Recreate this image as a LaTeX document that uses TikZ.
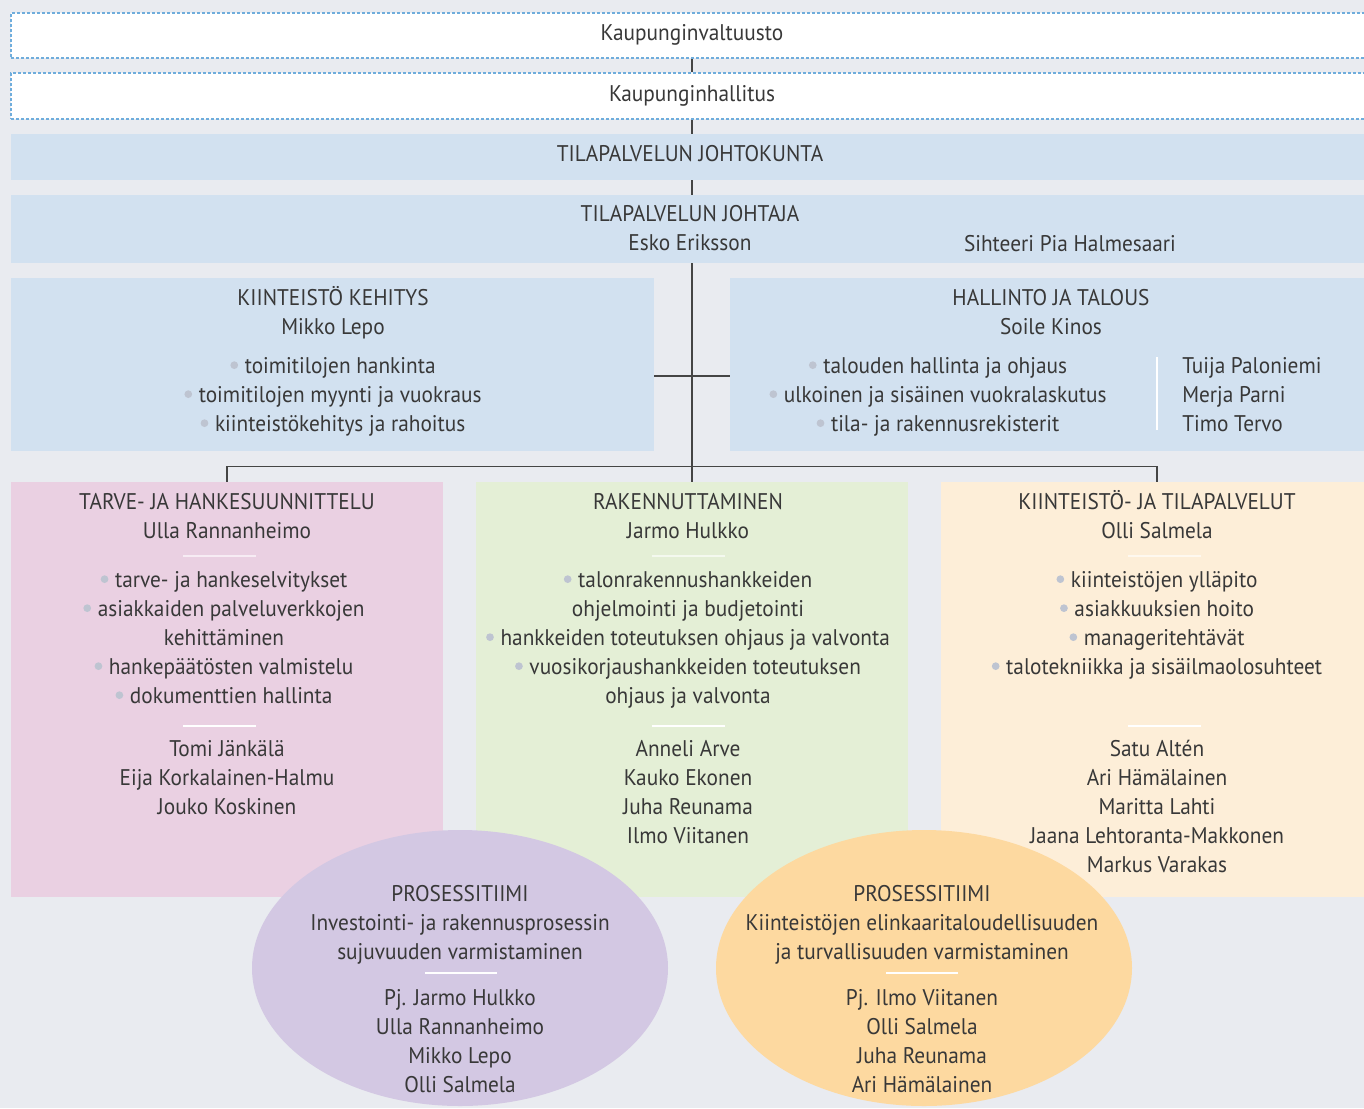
\documentclass[tikz,border=0pt]{standalone}
\usepackage{fontspec}
\setmainfont{PT Sans}[FakeStretch=0.94]
\usepackage{xcolor}
\usetikzlibrary{shapes,positioning,fit,calc}

\definecolor{bgcol}{HTML}{E9EBF0}
\definecolor{dotblue}{HTML}{6FADDC}
\definecolor{boxblue}{HTML}{D2E1F0}
\definecolor{boxpink}{HTML}{EAD0E2}
\definecolor{boxgreen}{HTML}{E4EFD6}
\definecolor{boxpeach}{HTML}{FDEED8}
\definecolor{ellpurple}{HTML}{D3C8E3}
\definecolor{ellorange}{HTML}{FDD9A0}
\definecolor{txtcol}{HTML}{383838}
\definecolor{bulgray}{HTML}{BEC4D1}
\definecolor{linecol}{HTML}{454545}

\newcommand{\bul}{\tikz[baseline=-0.36em]\fill[bulgray] (0,0) circle (2.9pt);\hspace{5pt}}
\newcommand{\tstrut}{\rule{0pt}{18pt}}

\begin{document}
\begin{tikzpicture}[x=0.75pt, y=-0.75pt, font=\fontsize{17}{21.75}\selectfont, text=txtcol]
\tikzstyle{topbox} = [rectangle, inner sep=0pt, fill=white, draw=dotblue, line width=1.7pt, dash pattern=on 2pt off 1.75pt]
\tikzstyle{bluebox} = [rectangle, inner sep=0pt, fill=boxblue]
\tikzstyle{unitbox} = [rectangle, inner sep=0pt]
\tikzstyle{team} = [ellipse, inner sep=0pt, minimum width=312pt, minimum height=207pt]
\tikzstyle{txt} = [anchor=north, inner sep=0pt, align=center, yshift=-0.2pt, execute at begin node=\tstrut]
\tikzstyle{lines} = [anchor=north, inner sep=0pt, align=center, yshift=-3pt]
\tikzstyle{sep} = [white, line width=1.2pt]
\tikzstyle{line} = [linecol, line width=1pt]

\fill[bgcol] (0,0) rectangle (1364,1108);
\useasboundingbox (0,0) rectangle (1364,1108);

% upper levels
\node (valt) [topbox, fit={(11,13) (1373,58)}] {};
\node (valttxt) [txt] at (692,16) {Kaupunginvaltuusto};
\node (hall) [topbox, fit={(11,73) (1373,119)}] {};
\node (halltxt) [txt] at (692,77) {Kaupunginhallitus};
\node (jkunta) [bluebox, fit={(11,134) (1373,180)}] {};
\node (jkuntatxt) [txt] at (690,137) {TILAPALVELUN JOHTOKUNTA};
\node (joht) [bluebox, fit={(11,195) (1373,263)}] {};
\node (johttxt) [lines] at (690,201) {TILAPALVELUN JOHTAJA\\Esko Eriksson};
\node (sihteeri) [txt] at (1070,227) {Sihteeri Pia Halmesaari};

% staff units
\node (keh) [bluebox, fit={(11,278) (654,451)}] {};
\node (kehtitle) [lines] at (333,282) {KIINTEISTÖ KEHITYS\\Mikko Lepo};
\node (kehlist) [lines] at (333,353) {\bul toimitilojen hankinta\\\bul toimitilojen myynti ja vuokraus\\\bul kiinteistökehitys ja rahoitus};

\node (hal) [bluebox, fit={(730,278) (1373,451)}] {};
\node (haltitle) [lines] at (1051,285) {HALLINTO JA TALOUS\\Soile Kinos};
\node (hallist) [lines] at (938,353) {\bul talouden hallinta ja ohjaus\\\bul ulkoinen ja sisäinen vuokralaskutus\\\bul tila- ja rakennusrekisterit};
\node (halnames) [lines, anchor=north west, align=left] at (1182,353) {Tuija Paloniemi\\Merja Parni\\Timo Tervo};
\draw[sep] (1157,357) -- (1157,430);

% line units
\node (tarve) [unitbox, fill=boxpink, fit={(11,482) (443,897)}] {};
\node (tarvetitle) [lines] at (227,489) {TARVE- JA HANKESUUNNITTELU\\Ulla Rannanheimo};
\node (tarvelist) [lines] at (224,567) {\bul tarve- ja hankeselvitykset\\\bul asiakkaiden palveluverkkojen\\kehittäminen\\\bul hankepäätösten valmistelu\\\bul dokumenttien hallinta};
\node (tarvenames) [lines] at (227,736) {Tomi Jänkälä\\Eija Korkalainen-Halmu\\Jouko Koskinen};
\draw[sep, white!60!boxpink] (183,556) -- (256,556);
\draw[sep] (183,726) -- (256,726);

\node (rak) [unitbox, fill=boxgreen, fit={(476,482) (908,897)}] {};
\node (raktitle) [lines] at (688,489) {RAKENNUTTAMINEN\\Jarmo Hulkko};
\node (raklist) [lines] at (688,567) {\bul talonrakennushankkeiden\\ohjelmointi ja budjetointi\\\bul hankkeiden toteutuksen ohjaus ja valvonta\\\bul vuosikorjaushankkeiden toteutuksen\\ohjaus ja valvonta};
\node (raknames) [lines] at (688,736) {Anneli Arve\\Kauko Ekonen\\Juha Reunama\\Ilmo Viitanen};
\draw[sep, white!60!boxgreen] (652,556) -- (725,556);
\draw[sep] (652,726) -- (725,726);

\node (tila) [unitbox, fill=boxpeach, fit={(941,482) (1373,897)}] {};
\node (tilatitle) [lines] at (1157,486) {KIINTEISTÖ- JA TILAPALVELUT\\Olli Salmela};
\node (tilalist) [lines] at (1157,567) {\bul kiinteistöjen ylläpito\\\bul asiakkuuksien hoito\\\bul manageritehtävät\\\bul talotekniikka ja sisäilmaolosuhteet};
\node (tilanames) [lines] at (1157,736) {Satu Altén\\Ari Hämälainen\\Maritta Lahti\\Jaana Lehtoranta-Makkonen\\Markus Varakas};
\draw[sep, white!60!boxpeach] (1128,556) -- (1201,556);
\draw[sep] (1128,726) -- (1201,726);

% process teams
\node (tiimi1) [team, fill=ellpurple] at (460,968) {};
\node (tiimi1title) [lines] at (460,881) {PROSESSITIIMI\\Investointi- ja rakennusprosessin\\sujuvuuden varmistaminen};
\node (tiimi1names) [lines] at (460,985) {Pj. Jarmo Hulkko\\Ulla Rannanheimo\\Mikko Lepo\\Olli Salmela};
\draw[sep] (425,973) -- (497,973);

\node (tiimi2) [team, fill=ellorange] at (924,968) {};
\node (tiimi2title) [lines] at (922,881) {PROSESSITIIMI\\Kiinteistöjen elinkaaritaloudellisuuden\\ja turvallisuuden varmistaminen};
\node (tiimi2names) [lines] at (922,985) {Pj. Ilmo Viitanen\\Olli Salmela\\Juha Reunama\\Ari Hämälainen};
\draw[sep] (886,973) -- (958,973);

% connectors
\coordinate (crossy) at (692,376);
\draw [line] (valt) -- (hall);
\draw [line] (hall) -- (jkunta);
\draw [line] (jkunta) -- (joht);
\draw [line] (joht.south) -- (rak.north);
\draw [line] (keh.east |- crossy) -- (hal.west |- crossy);
\draw [line] (tarve.north) -- ++(0,-15) -| (tila.north);

\end{tikzpicture}
\end{document}
